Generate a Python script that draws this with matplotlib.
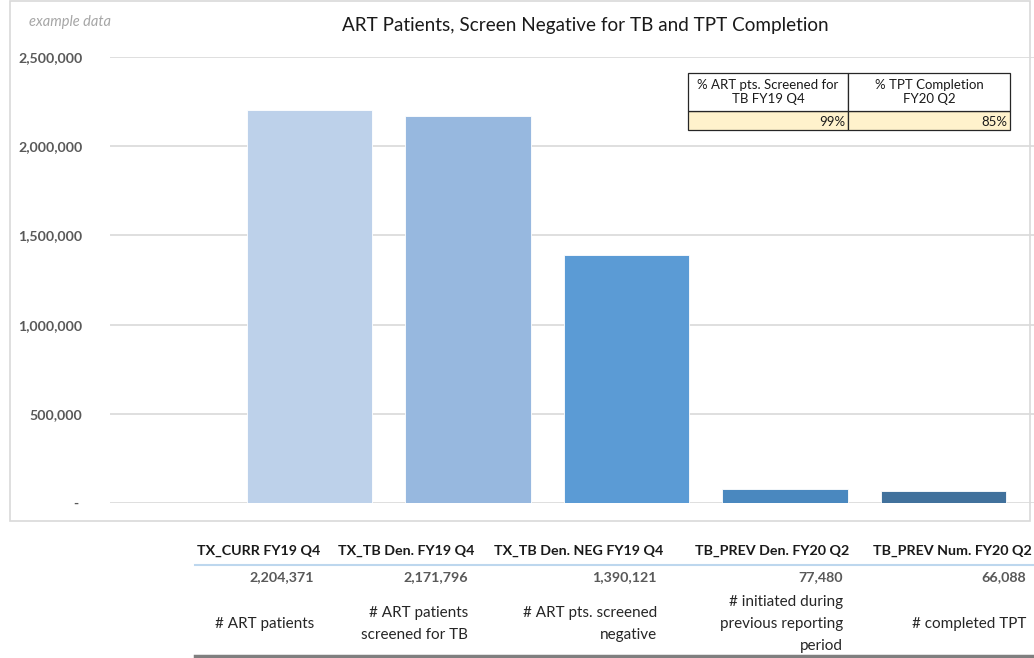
import matplotlib.pyplot as plt
from matplotlib.patches import Rectangle
from matplotlib.lines import Line2D

plt.rcParams['font.family'] = ['Lato', 'DejaVu Sans']

# data
indicators = ["TX_CURR FY19 Q4", "TX_TB Den. FY19 Q4", "TX_TB Den. NEG FY19 Q4",
              "TB_PREV Den. FY20 Q2", "TB_PREV Num. FY20 Q2"]
values = [2204371, 2171796, 1390121, 77480, 66088]
descriptions = ["# ART patients", "# ART patients\nscreened for TB",
                "# ART pts. screened\nnegative",
                "# initiated during\nprevious reporting\nperiod", "# completed TPT"]
bar_colors = ["#BDD1EA", "#97B8DF", "#5B9BD5", "#4A88BF", "#41719C"]
yticks = [0, 500000, 1000000, 1500000, 2000000, 2500000]
pct_headers = ["% ART pts. Screened for\nTB FY19 Q4", "% TPT Completion\nFY20 Q2"]
pct_values = ["99%", "85%"]

W, H = 1034, 658
fig = plt.figure(figsize=(W / 100, H / 100), dpi=100)

def fx(px):
    return px / W

def fy(py):
    return 1 - py / H

# outer chart border
fig.add_artist(Rectangle((fx(10), fy(521)), fx(1030) - fx(10), fy(1) - fy(521),
                         transform=fig.transFigure, fill=False, ec="#D9D9D9", lw=1.2))

ax = fig.add_axes([fx(110), fy(503), 1 - fx(110), fy(57) - fy(503)])
x = list(range(len(values)))
ax.bar(x, values, width=0.79, color=bar_colors, edgecolor="#FFFFFF", linewidth=0.6, zorder=3)
ax.set_xlim(-1.259, 4.571)
ax.set_ylim(0, 2500000)
ax.set_yticks(yticks)
ax.set_yticklabels([f"{v:,}" if v else "- " for v in yticks],
                   fontsize=10.2, color="#595959", fontweight="bold")
ax.tick_params(axis="y", length=0, pad=20)
ax.set_xticks([])
ax.grid(axis="y", color="#D9D9D9", lw=1.2, zorder=0)
for s in ax.spines.values():
    s.set_visible(False)

fig.text(fx(585), fy(25), "ART Patients, Screen Negative for TB and TPT Completion",
         ha="center", va="center", fontsize=13.6, color="#1a1a1a")
fig.text(fx(29), fy(22), "example data", ha="left", va="center", fontsize=10.5,
         style="italic", color="#A6A6A6")

# inset percent table
tx0, tx1, tx2 = 688, 848, 1010
ty0, ty1, ty2 = 73, 111, 130
for c0, c1 in [(tx0, tx1), (tx1, tx2)]:
    fig.add_artist(Rectangle((fx(c0), fy(ty2)), fx(c1) - fx(c0), fy(ty1) - fy(ty2),
                             transform=fig.transFigure, fc="#FFF2CC", ec="#262626", lw=0.9))
    fig.add_artist(Rectangle((fx(c0), fy(ty1)), fx(c1) - fx(c0), fy(ty0) - fy(ty1),
                             transform=fig.transFigure, fc="white", ec="#262626", lw=0.9))
for (c0, c1), head, val in zip([(tx0, tx1), (tx1, tx2)], pct_headers, pct_values):
    fig.text(fx((c0 + c1) / 2), fy((ty0 + ty1) / 2), head, ha="center", va="center",
             fontsize=9.5, color="#1a1a1a", linespacing=1.2)
    fig.text(fx(c1 - 3), fy((ty1 + ty2) / 2 + 1), val, ha="right", va="center",
             fontsize=9.5, color="#1a1a1a")

# data table below the chart
right_edges = [320, 474, 663, 849, 1032]
for r, ind, v, d in zip(right_edges, indicators, values, descriptions):
    fig.text(fx(r), fy(551), ind, ha="right", va="center", fontsize=10.3,
             fontweight="bold", color="#1a1a1a")
    fig.text(fx(r - 6), fy(577), f"{v:,}", ha="right", va="center", fontsize=10.3,
             fontweight="bold", color="#595959")
    fig.text(fx(r - 6), fy(624), d, ha="right", va="center", fontsize=11,
             color="#262626", linespacing=1.7, multialignment="right")
fig.add_artist(Line2D([fx(195), 1], [fy(565), fy(565)], transform=fig.transFigure,
                      color="#BDD7EE", lw=1.5))
fig.add_artist(Line2D([fx(195), 1], [fy(656), fy(656)], transform=fig.transFigure,
                      color="#7F7F7F", lw=2.5))

fig.savefig("out.png", dpi=100)
